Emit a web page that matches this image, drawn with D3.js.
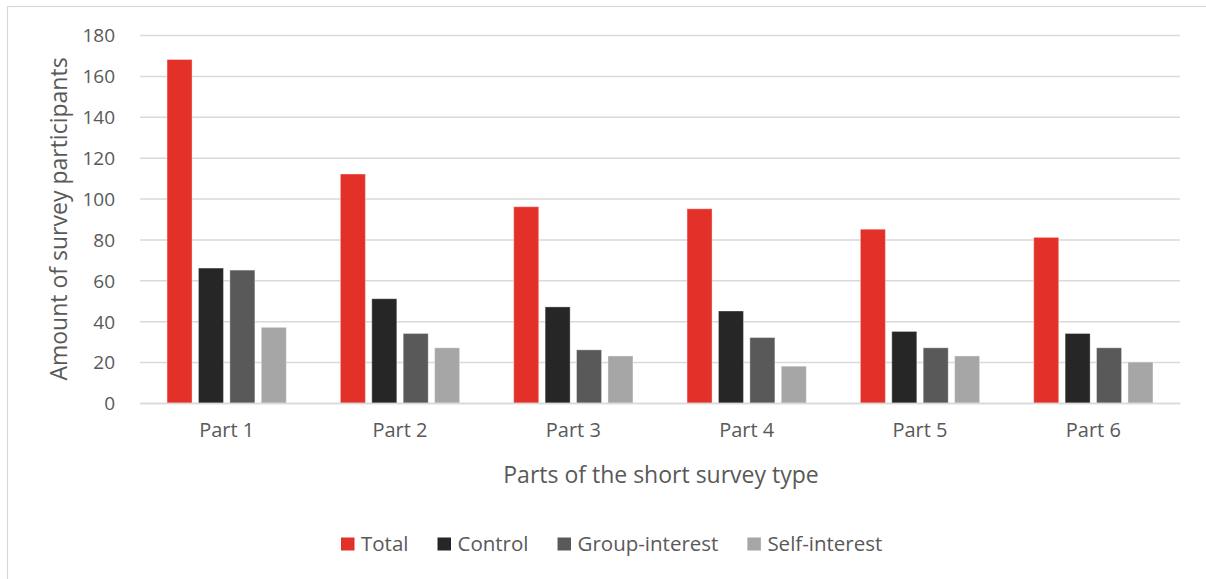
<!DOCTYPE html>
<html>
<head>
<meta charset="utf-8">
<script src="https://cdn.jsdelivr.net/npm/d3@7"></script>
<style>
  html, body { margin: 0; padding: 0; background: #fff; }
  svg { display: block; }
  svg text { font-family: "Open Sans", "Noto Sans", sans-serif; }
</style>
</head>
<body>
<svg id="chart" width="1206" height="579"></svg>
<script>
// Survey participation per part of the short survey
const parts = ["Part 1", "Part 2", "Part 3", "Part 4", "Part 5", "Part 6"];
const seriesNames = ["Total", "Control", "Group-interest", "Self-interest"];
const totalValues = [168, 112, 96, 95, 85, 81];
const controlValues = [66, 51, 47, 45, 35, 34];
const groupValues = [65, 34, 26, 32, 27, 27];
const selfValues = [37, 27, 23, 18, 23, 20];
const yTicks = [0, 20, 40, 60, 80, 100, 120, 140, 160, 180];
const seriesColors = ["#E3312A", "#262626", "#595959", "#A6A6A6"];

const seriesValues = [totalValues, controlValues, groupValues, selfValues];

const svg = d3.select("#chart");
const plot = { left: 140, right: 1180, top: 35, bottom: 403 };
const textColor = "#595959";
const gridColor = "#D9D9D9";
const fontFamily = '"Open Sans", "Noto Sans", sans-serif';

// outer chart border
svg.append("rect")
  .attr("x", 7.5).attr("y", 6.5)
  .attr("width", 1210).attr("height", 590)
  .attr("fill", "none").attr("stroke", gridColor).attr("stroke-width", 1.2);

const y = d3.scaleLinear().domain([0, 180]).range([plot.bottom, plot.top]);
const x0 = d3.scaleBand().domain(parts).range([plot.left, plot.right]).padding(0);
const x1 = d3.scaleBand().domain(seriesNames).range([0, x0.bandwidth()])
  .paddingInner(0.204).paddingOuter(0.861);

// horizontal gridlines and value labels
const yAxis = d3.axisLeft(y).tickValues(yTicks).tickSize(-(plot.right - plot.left)).tickPadding(25);
const gy = svg.append("g").attr("transform", `translate(${plot.left},0)`).call(yAxis)
  .attr("font-family", fontFamily).attr("font-size", 19);
gy.select(".domain").remove();
gy.selectAll(".tick line").attr("stroke", gridColor).attr("stroke-width", 1.5);
gy.selectAll(".tick text").attr("fill", textColor).attr("dy", "0.36em");

// bars
const groups = svg.append("g").selectAll("g")
  .data(parts)
  .join("g")
  .attr("transform", d => `translate(${x0(d)},0)`);

groups.selectAll("rect")
  .data((p, i) => seriesNames.map((s, k) => ({ s, k, v: seriesValues[k][i] })))
  .join("rect")
  .attr("x", d => x1(d.s))
  .attr("width", x1.bandwidth())
  .attr("y", d => y(d.v))
  .attr("height", d => y(0) - y(d.v))
  .attr("fill", d => seriesColors[d.k])
  .attr("stroke", "#ffffff")
  .attr("stroke-opacity", 0.35)
  .attr("stroke-width", 1);

// category axis
const xAxis = d3.axisBottom(x0).tickSize(0).tickPadding(20);
const gx = svg.append("g").attr("transform", `translate(0,${plot.bottom})`).call(xAxis)
  .attr("font-family", fontFamily).attr("font-size", 20);
gx.select(".domain").attr("stroke", gridColor).attr("stroke-width", 1.5);
gx.selectAll(".tick text").attr("fill", textColor);

// axis titles
svg.append("text")
  .attr("transform", `translate(67,${(plot.top + plot.bottom) / 2}) rotate(-90)`)
  .attr("text-anchor", "middle")
  .attr("fill", textColor).attr("font-size", 23)
  .text("Amount of survey participants");

svg.append("text")
  .attr("x", 661)
  .attr("y", 483)
  .attr("text-anchor", "middle")
  .attr("fill", textColor).attr("font-size", 23)
  .text("Parts of the short survey type");

// legend
const legend = svg.append("g").attr("transform", "translate(0,544)");
const items = legend.selectAll("g").data(seriesNames).join("g");
items.append("rect")
  .attr("width", 13.5).attr("height", 13).attr("y", -6.5)
  .attr("fill", (d, i) => seriesColors[i]);
items.append("text")
  .attr("x", 20).attr("dy", "0.36em")
  .attr("fill", textColor).attr("font-size", 20.5)
  .text(d => d);

const gap = 29;
let cx = 341;
items.each(function () {
  const w = 20 + this.querySelector("text").getComputedTextLength();
  d3.select(this).attr("transform", `translate(${cx},0)`);
  cx += w + gap;
});
</script>
</body>
</html>
